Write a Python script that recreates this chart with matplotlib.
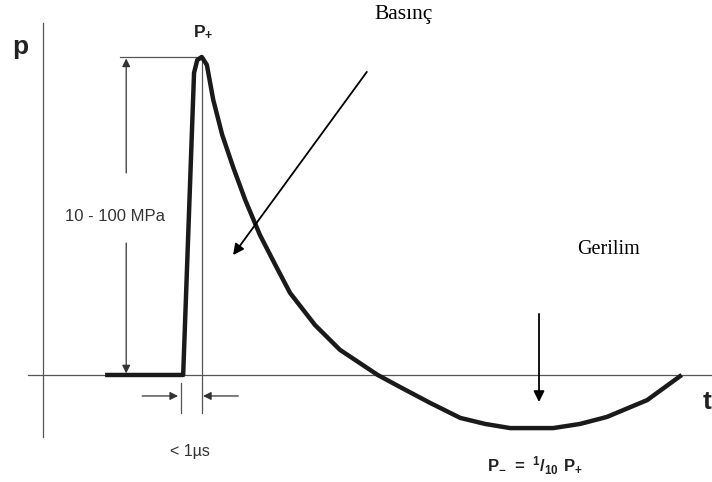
import matplotlib
matplotlib.use('Agg')
import matplotlib.pyplot as plt

plt.rcParams['font.family'] = ['Liberation Sans', 'DejaVu Sans']
plt.rcParams['mathtext.fontset'] = 'custom'
plt.rcParams['mathtext.rm'] = 'Liberation Sans'
plt.rcParams['mathtext.bf'] = 'Liberation Sans:bold'

# Pressure pulse (p normalised to P+ = 1, t in arbitrary units)
t_vals = [0.97, 2.19, 2.36, 2.41, 2.48, 2.56, 2.66, 2.80, 2.97, 3.16,
          3.39, 3.63, 3.86, 4.25, 4.64, 5.23, 5.58, 6.05, 6.52, 6.91, 7.30,
          7.97, 8.39, 8.81, 9.44, 9.98]
p_vals = [0.0, 0.0, 0.95, 0.99, 1.0, 0.975, 0.865, 0.755, 0.654, 0.550,
          0.440, 0.346, 0.258, 0.157, 0.079, 0.0, -0.038, -0.088, -0.135,
          -0.154, -0.167, -0.167, -0.154, -0.132, -0.079, 0.0]

peak_t = 2.48
rise_t = 2.16

fig = plt.figure(figsize=(7.12, 4.82), dpi=100)
ax = fig.add_axes((0, 0, 1, 1))
ax.set_xlim(-0.672, 10.453)
ax.set_ylim(-0.3365, 1.179)
ax.axis('off')

grey = '#555555'
# axes lines
ax.plot([0, 0], [-0.195, 1.107], color=grey, lw=0.9)
ax.plot([-0.234, 10.45], [0, 0], color=grey, lw=0.9)

# pulse curve
ax.plot(t_vals, p_vals, color='#1a1a1a', lw=3.2, solid_joinstyle='round',
        solid_capstyle='butt', zorder=3)

# guide lines around the peak
ax.plot([1.20, peak_t], [1.0, 1.0], color=grey, lw=0.9)
ax.plot([peak_t, peak_t], [1.0, -0.12], color=grey, lw=0.9)
ax.plot([rise_t, rise_t], [-0.025, -0.12], color=grey, lw=0.9)

thin = dict(arrowstyle='-|>', color='#333333', lw=0.9, mutation_scale=12,
            shrinkA=0, shrinkB=0)
ax.annotate('', xy=(1.30, 0.995), xytext=(1.30, 0.635), arrowprops=thin)
ax.annotate('', xy=(1.30, 0.005), xytext=(1.30, 0.415), arrowprops=thin)
ax.text(1.125, 0.497, '10 - 100 MPa', fontsize=12, color='#333333',
        ha='center', va='center')

# < 1 µs markers
ax.annotate('', xy=(2.11, -0.066), xytext=(1.55, -0.066), arrowprops=thin)
ax.annotate('', xy=(2.50, -0.066), xytext=(3.05, -0.066), arrowprops=thin)
ax.text(2.30, -0.242, '< 1µs', fontsize=11.5, color='#333333',
        ha='center', va='center')

# axis letters
ax.text(-0.36, 1.03, 'p', fontsize=19, fontweight='bold', ha='center',
        va='center', color='#222222')
ax.text(10.31, -0.085, 't', fontsize=19, fontweight='bold', ha='left',
        va='center', color='#222222')
ax.text(2.50, 1.079, r'$\mathbf{P_{+}}$', fontsize=12.5, ha='center',
        va='center', color='#222222')

# annotations
bold = dict(arrowstyle='-|>', color='black', lw=1.3, mutation_scale=16,
            shrinkA=0, shrinkB=0)
ax.text(5.64, 1.132, 'Basınç', fontsize=15.5, family='Liberation Serif',
        ha='center', va='center')
ax.annotate('', xy=(2.97, 0.377), xytext=(5.06, 0.953), arrowprops=bold)
ax.text(8.84, 0.396, 'Gerilim', fontsize=14.5, family='Liberation Serif',
        ha='center', va='center')
ax.annotate('', xy=(7.75, -0.085), xytext=(7.75, 0.192), arrowprops=bold)
ax.text(7.69, -0.286, r'$\mathbf{P_{-}\ =\ {}^{1}/_{10}\ P_{+}}$',
        fontsize=12, ha='center', va='center', color='#222222')

fig.savefig('out.png', dpi=100, facecolor='white')
plt.close(fig)
